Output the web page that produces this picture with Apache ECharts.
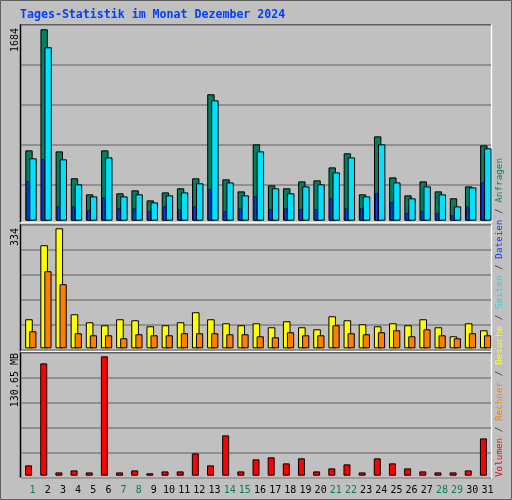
<!DOCTYPE html>
<html><head><meta charset="utf-8">
<script src="https://cdn.jsdelivr.net/npm/echarts@6/dist/echarts.min.js"></script>
<style>html,body{margin:0;padding:0;background:#c0c0c0}#c{width:512px;height:500px}</style>
</head><body><div id="c"></div>
<script>
var days = ['1','2','3','4','5','6','7','8','9','10','11','12','13','14','15','16','17','18','19','20','21','22','23','24','25','26','27','28','29','30','31'];
var weekendDays = ['1','7','8','14','15','21','22','28','29'];
var hits  = [619,1684,610,373,232,619,241,267,179,249,285,373,1112,364,258,672,311,285,346,355,469,593,232,742,381,223,346,258,197,302,663];
var files = [549,1526,540,320,214,557,214,232,161,223,249,329,1059,337,223,610,285,241,302,320,425,557,214,672,337,197,302,232,126,293,637];
var pages = [346,540,126,126,91,205,109,109,82,126,100,126,276,82,109,214,100,109,100,100,197,109,109,241,161,65,82,65,47,126,337];
var visits= [80.8,286.9,334,94.7,72.4,64.1,80.8,78,61.3,64.1,72.4,100.3,80.8,69.6,64.1,69.6,58.5,75.2,58.5,52.9,89.1,78,66.9,61.3,69.6,64.1,80.8,58.5,33.4,69.6,50.1];
var sites = [47.4,214.5,178.3,41.8,36.2,36.2,27.9,39,36.2,36.2,41.8,41.8,41.8,39,39,33.4,30.6,44.6,36.2,36.2,64.1,41.8,39,44.6,50.1,33.4,52.9,36.2,27.9,41.8,36.2];
var volumeMB = [11.3,122.9,3.6,5.8,3.6,130.6,3.6,5.8,2.6,4.7,4.7,24.4,11.3,44.1,4.7,17.9,20.1,13.5,19.0,4.7,8.0,12.4,3.6,19.0,13.5,8.0,4.7,3.6,3.6,5.8,40.8];
var yLabels = ['1684','334','130.65 MB'];

var chart = echarts.init(document.getElementById('c'));
var mono = 'DejaVu Sans Mono';
var panels = [[25,200],[224.3,125],[352.3,125]];
var grids=[], xAxes=[], yAxes=[], series=[];
function hidX(g){xAxes.push({type:'category',gridIndex:g,data:days,show:false});return xAxes.length-1;}
panels.forEach(function(p,i){
  grids.push({left:21,width:470,top:p[0],height:p[1]});
  hidX(i);
  yAxes.push({type:'value',gridIndex:i,min:0,max:5,interval:1,axisLabel:{show:false},axisLine:{show:false},axisTick:{show:false},splitLine:{show:true,lineStyle:{color:'#808080',width:1.5}}});
});
var ranges=[[-37.8,1721.8],[-2.8,345.1],[-1.75,135.0]];
var lefts=[23.4,23.2,21];
panels.forEach(function(p,i){
  grids.push({left:lefts[i],width:470,top:p[0],height:p[1]});
  yAxes.push({type:'value',gridIndex:3+i,min:ranges[i][0],max:ranges[i][1],show:false,splitLine:{show:false}});
});
var bs={borderColor:'#000',borderWidth:1};
var xa3=hidX(3), xa3b=hidX(3), xa4=hidX(4), xa5=hidX(5);
series.push({type:'bar',xAxisIndex:xa3,yAxisIndex:3,data:hits,barWidth:7.4,barGap:'-46%',itemStyle:Object.assign({color:'#008060'},bs),z:2,silent:true});
series.push({type:'bar',xAxisIndex:xa3,yAxisIndex:3,data:files,barWidth:7.4,barGap:'-46%',itemStyle:Object.assign({color:'#00e0ff'},bs),z:3,silent:true});
series.push({type:'bar',xAxisIndex:xa3b,yAxisIndex:3,data:pages,barWidth:3,barGap:'100%',itemStyle:{color:'#0040ff',borderColor:'#000',borderWidth:0.6},z:10,silent:true});
series.push({type:'bar',xAxisIndex:xa3b,yAxisIndex:3,data:[],barWidth:3,barGap:'100%'});
series.push({type:'bar',xAxisIndex:xa4,yAxisIndex:4,data:visits,barWidth:7.6,barGap:'-47%',itemStyle:Object.assign({color:'#ffff00'},bs),z:2,silent:true});
series.push({type:'bar',xAxisIndex:xa4,yAxisIndex:4,data:sites,barWidth:7.2,barGap:'-47%',itemStyle:Object.assign({color:'#ff8000'},bs),z:3,silent:true});
series.push({type:'bar',xAxisIndex:xa5,yAxisIndex:5,data:volumeMB,barWidth:7,itemStyle:Object.assign({color:'#ff0000'},bs),silent:true});
grids.push({left:25,width:470,top:352.3,height:125});
xAxes.push({type:'category',gridIndex:6,data:days,axisLine:{show:false},axisTick:{show:false},
  axisLabel:{interval:0,margin:8,fontFamily:mono,fontSize:10,formatter:function(v){return weekendDays.indexOf(v)>=0?'{w|'+v+'}':'{n|'+v+'}';},
  rich:{w:{color:'#008060',fontFamily:mono,fontSize:10},n:{color:'#000',fontFamily:mono,fontSize:10}}}});
yAxes.push({type:'value',gridIndex:6,show:false});

function panelLines(y0,y1){
  return [
    {type:'line',shape:{x1:20.5,y1:y0,x2:491,y2:y0},style:{stroke:'#000',lineWidth:1}},
    {type:'line',shape:{x1:20.5,y1:y0,x2:20.5,y2:y1},style:{stroke:'#000',lineWidth:1.5}},
    {type:'line',shape:{x1:20.5,y1:y1,x2:491.5,y2:y1},style:{stroke:'#fff',lineWidth:1.5}},
    {type:'line',shape:{x1:491.5,y1:y0,x2:491.5,y2:y1},style:{stroke:'#fff',lineWidth:1.5}}
  ];
}
var gfx=[{type:'rect',shape:{x:0.5,y:0.5,width:511,height:499},style:{fill:'none',stroke:'#606060',lineWidth:1},z:0}];
gfx=gfx.concat(panelLines(24.5,222.5),panelLines(224.5,351.5),panelLines(352.5,478));
gfx.push({type:'text',x:20,y:15,style:{text:'Tages-Statistik im Monat Dezember 2024',fill:'#0040ff',font:'bold 11.6px '+mono,verticalAlign:'middle'}});
var ly=[28,228,353];
yLabels.forEach(function(t,i){gfx.push({type:'text',x:15,y:ly[i],rotation:Math.PI/2,style:{text:t,fill:'#000',font:'10px '+mono,align:'right',verticalAlign:'middle'}});});
var lf='9.3px '+mono;
gfx.push({type:'text',x:500,y:477,rotation:Math.PI/2,style:{
  text:'{r|Volumen}{s| / }{o|Rechner}{s| / }{y|Besuche}{s| / }{c|Seiten}{s| / }{b|Dateien}{s| / }{g|Anfragen}',
  align:'left',verticalAlign:'middle',font:lf,
  rich:{r:{fill:'#ff0000',font:lf},o:{fill:'#ff8000',font:lf},y:{fill:'#ffff00',font:lf},c:{fill:'#00e0ff',font:lf},b:{fill:'#0040ff',font:lf},g:{fill:'#008060',font:lf},s:{fill:'#404040',font:lf}}}});

chart.setOption({backgroundColor:'#c0c0c0',animation:false,grid:grids,xAxis:xAxes,yAxis:yAxes,series:series,graphic:gfx});
</script></body></html>
